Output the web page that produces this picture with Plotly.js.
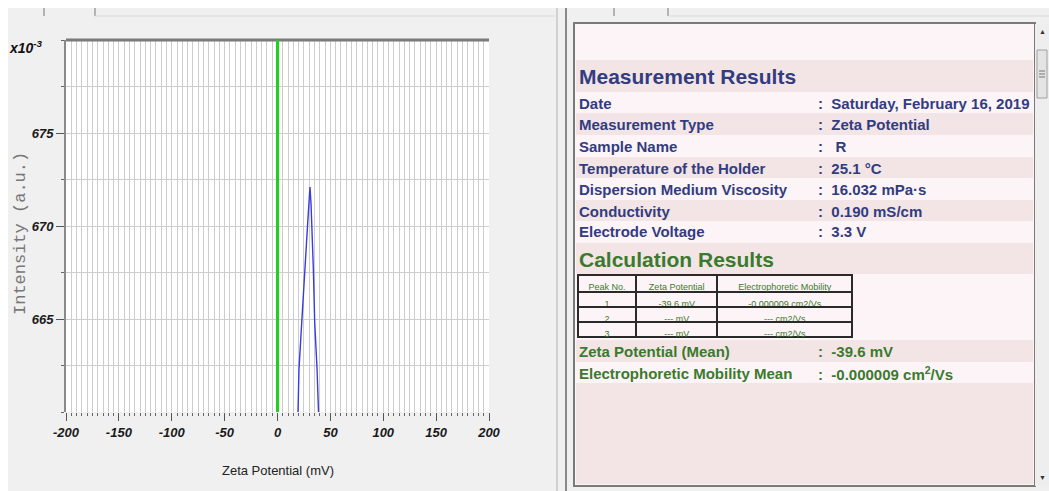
<!DOCTYPE html>
<html>
<head>
<meta charset="utf-8">
<script src="https://cdn.plot.ly/plotly-3.0.1.min.js"></script>
<style>
html,body{margin:0;padding:0;background:#f0f0f0;}
#chart{width:1049px;height:491px;}
</style>
</head>
<body>
<div id="chart"></div>
<script>
// ---------------- data ----------------
const peakZeta = [19.4, 20.3, 22.9, 25.7, 28.6, 30.7, 31.7, 33.9, 35.2, 37.4, 38.8];
const peakIntensity = [660.0, 662.3, 664.8, 667.7, 670.2, 672.1, 671.2, 667.7, 664.8, 662.3, 660.0];
const xTickVals = [-200, -150, -100, -50, 0, 50, 100, 150, 200];
const xTickText = ['-200', '-150', '-100', '-50', '0', '50', '100', '150', '200'];
const yTickVals = [665, 670, 675];
const yTickText = ['665', '670', '675'];
const zeroMarker = 0;

const measLabels = ['Date', 'Measurement Type', 'Sample Name', 'Temperature of the Holder',
  'Dispersion Medium Viscosity', 'Conductivity', 'Electrode Voltage'];
const measValues = ['Saturday, February 16, 2019', 'Zeta Potential', ' R', '25.1 °C',
  '16.032 mPa·s', '0.190 mS/cm', '3.3 V'];

const tableHeader = ['Peak No.', 'Zeta Potential', 'Electrophoretic Mobility'];
const peakNo = ['1', '2', '3'];
const peakZetaText = ['-39.6 mV', '--- mV', '--- mV'];
const peakMobility = ['-0.000009 cm2/Vs', '--- cm2/Vs', '--- cm2/Vs'];

const calcLabels = ['Zeta Potential (Mean)', 'Electrophoretic Mobility Mean'];
const calcValues = ['-39.6 mV', '-0.000009 cm<sup>2</sup>/Vs'];

// ---------------- helpers ----------------
const W = 1049, H = 491;
const X = px => px / W;
const Y = py => 1 - py / H;
const SANS = 'Liberation Sans, Arial, sans-serif';
const NAVY = '#323c80';
const GREEN = '#3b7a2e';
const LIGHT = '#fdf4f7';
const PINK = '#f3e5e5';

const shapes = [];
const annotations = [];
function rect(x0, y0, x1, y1, fill, lineColor, lw) {
  shapes.push({type: 'rect', xref: 'paper', yref: 'paper', layer: 'below',
    x0: X(x0), x1: X(x1), y0: Y(y1), y1: Y(y0), fillcolor: fill,
    line: {width: lineColor ? (lw || 1) : 0, color: lineColor || fill}});
}
function line(x0, y0, x1, y1, color, w) {
  shapes.push({type: 'line', xref: 'paper', yref: 'paper', layer: 'below',
    x0: X(x0), x1: X(x1), y0: Y(y0), y1: Y(y1), line: {color: color, width: w || 1}});
}
function txt(x, y, text, font, xanchor, extra) {
  annotations.push(Object.assign({xref: 'paper', yref: 'paper', x: X(x), y: Y(y),
    text: text, showarrow: false, xanchor: xanchor || 'left', yanchor: 'middle',
    font: font}, extra || {}));
}

// ---------------- page chrome ----------------
rect(0, 0, W, 8, '#ffffff');
rect(0, 0, 8, H, '#ffffff');
line(44, 8, 44, 16, '#777', 1);
line(95, 8, 95, 16, '#777', 1);
line(95, 16, 555, 16, '#d8d8d8', 1);
line(557, 8, 557, H, '#b0b0b0', 1);
line(566, 8, 566, H, '#8a8a8a', 2);
line(614, 8, 614, 16, '#777', 1);
line(668, 8, 668, 16, '#777', 1);
line(668, 16, 1049, 16, '#d8d8d8', 1);

// result box
rect(574, 23, 1035, 486, LIGHT, '#7a7a7a', 2);
const bands = [[60, 92, PINK], [113, 135, PINK], [157, 178, PINK], [200, 221, PINK],
  [243, 274, PINK], [340, 362, PINK], [383, 484, PINK]];
bands.forEach(b => rect(576, b[0], 1033, b[1], b[2]));
// scrollbar
rect(1035, 24, 1049, 486, '#eeeeee');
rect(1037, 50, 1047, 98, '#e4e4e4', '#a0a0a0', 1);
line(1039, 71, 1045, 71, '#777', 1);
line(1039, 74, 1045, 74, '#777', 1);
line(1039, 77, 1045, 77, '#777', 1);
txt(1042, 31, '▲', {family: SANS, size: 7, color: '#333'}, 'center');
txt(1042, 477, '▼', {family: SANS, size: 7, color: '#333'}, 'center');

// ---------------- chart texts ----------------
txt(7, 47, 'x10<sup>-3</sup>', {family: SANS, size: 14, color: '#111', weight: 'bold', style: 'italic'}, 'left');
txt(20, 234, 'Intensity (a.u.)', {family: 'Liberation Mono, DejaVu Sans Mono, monospace', size: 17, color: '#777'}, 'center', {textangle: -90});
txt(278, 470, 'Zeta Potential (mV)', {family: SANS, size: 13, color: '#222'}, 'center');

// ---------------- results texts ----------------
const rowFont = c => ({family: SANS, size: 15, color: c, weight: 'bold'});
const headFont = c => ({family: SANS, size: 21, color: c, weight: 'bold'});
txt(577, 77, 'Measurement Results', headFont(NAVY), 'left');
const rowY = [103, 125, 146, 168, 189, 211, 232];
measLabels.forEach((l, i) => {
  txt(577, rowY[i], l, rowFont(NAVY), 'left');
  txt(816, rowY[i], ':  ' + measValues[i], rowFont(NAVY), 'left');
});
txt(577, 259, 'Calculation Results', headFont(GREEN), 'left');
const calcY = [351, 373];
calcLabels.forEach((l, i) => {
  txt(577, calcY[i], l, rowFont(GREEN), 'left');
  txt(816, calcY[i], ':  ' + calcValues[i], rowFont(GREEN), 'left');
});

// ---------------- chart shapes ----------------
shapes.push({type: 'line', xref: 'x domain', yref: 'y domain', x0: 0, x1: 1, y0: 1, y1: 1,
  line: {color: '#7a7a7a', width: 3}, layer: 'above'});
shapes.push({type: 'line', xref: 'x', yref: 'y domain', x0: zeroMarker, x1: zeroMarker, y0: 0, y1: 1,
  line: {color: '#22d022', width: 3}, layer: 'above'});

const tickFont = {family: SANS, size: 13, color: '#1a1a1a', weight: 'bold', style: 'italic'};
const gridC = '#cdcdcd';

const traces = [
  {type: 'scatter', mode: 'lines', x: peakZeta, y: peakIntensity,
   line: {color: '#3a3ae0', width: 1.4}, hoverinfo: 'none'},
  {type: 'table', domain: {x: [X(578), X(853)], y: [Y(340), Y(275)]},
   columnwidth: [58, 82, 135],
   header: {values: tableHeader, height: 17, align: 'center', fill: {color: LIGHT},
     line: {color: '#2a2a2a', width: 2}, font: {family: SANS, size: 9, color: GREEN}},
   cells: {values: [peakNo, peakZetaText, peakMobility], height: 15, align: 'center',
     fill: {color: LIGHT}, line: {color: '#2a2a2a', width: 2},
     font: {family: SANS, size: 9, color: GREEN}}}
];

const layout = {
  width: W, height: H, autosize: false,
  margin: {l: 0, r: 0, t: 0, b: 0, pad: 0},
  paper_bgcolor: '#f0f0f0', plot_bgcolor: '#ffffff',
  showlegend: false,
  xaxis: {domain: [X(66), X(489)], range: [-200, 200], tickvals: xTickVals, ticktext: xTickText,
    ticks: 'outside', ticklen: 8, tickwidth: 1, tickcolor: '#555',
    showgrid: true, gridcolor: gridC, gridwidth: 1, zeroline: false, showline: false,
    tickfont: tickFont,
    minor: {dtick: 5, ticks: 'outside', ticklen: 3, tickcolor: '#666', showgrid: true, gridcolor: gridC, gridwidth: 1}},
  yaxis: {domain: [Y(412), Y(40)], range: [660, 680], tickvals: yTickVals, ticktext: yTickText,
    ticks: 'outside', ticklen: 8, tickwidth: 1, tickcolor: '#555',
    showgrid: true, gridcolor: gridC, gridwidth: 1, zeroline: false,
    showline: true, linecolor: '#8a8a8a', linewidth: 2, tickfont: tickFont,
    minor: {dtick: 2.5, ticks: 'outside', ticklen: 3, tickcolor: '#666', showgrid: true, gridcolor: gridC, gridwidth: 1}},
  shapes: shapes,
  annotations: annotations
};

Plotly.newPlot('chart', traces, layout, {staticPlot: true, displayModeBar: false});
</script>
</body>
</html>
